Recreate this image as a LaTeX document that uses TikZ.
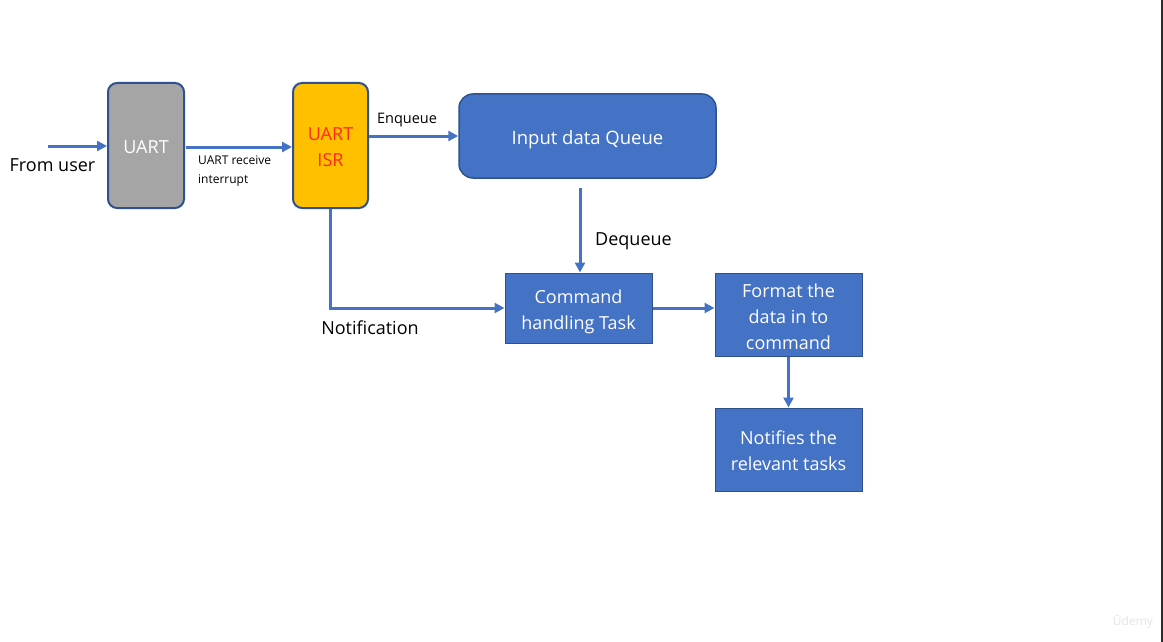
\documentclass[tikz,border=0pt]{standalone}
\usepackage{fontspec}
\setmainfont{Open Sans}
\usetikzlibrary{arrows.meta,calc}
\definecolor{accblue}{HTML}{4472C4}
\definecolor{darkblue}{HTML}{2F528F}
\definecolor{uartgray}{HTML}{A5A5A5}
\definecolor{isryellow}{HTML}{FFC000}
\definecolor{isrred}{HTML}{FF2A1A}
\tikzset{
  rbox/.style={draw=darkblue, line width=2pt, rounded corners=9pt, inner sep=0pt},
  bluebox/.style={draw=darkblue, line width=1pt, fill=accblue, inner sep=0pt},
  intext/.style={align=center, inner sep=0pt, text=white, font=\fontsize{18}{26}\selectfont},
  conn/.style={draw=accblue, line width=3pt, -{Triangle[length=10pt,width=10pt]}},
  lbl/.style={inner sep=0pt, font=\fontsize{18}{26}\selectfont},
}
\begin{document}
\begin{tikzpicture}[x=1pt,y=-1pt]
\useasboundingbox (0,0) rectangle (1163,642);
\fill[white] (0,0) rectangle (1163,642);
\fill[black!83] (1160.5,0) rectangle (1163,642);

\node[rbox, fill=uartgray, minimum width=76pt, minimum height=125pt] (uart) at (146,145.5) {};
\node[intext] (uarttxt) at ([yshift=-2pt]uart.center) {UART};
\node[rbox, fill=isryellow, minimum width=75pt, minimum height=125pt] (isr) at (330.5,145.5) {};
\node[intext, text=isrred] (isrtxt) at ([yshift=-1.5pt]isr.center) {UART\\ISR};
\node[draw=darkblue, line width=1.5pt, fill=accblue, rounded corners=14pt,
  minimum width=257pt, minimum height=84pt, inner sep=0pt] (queue) at (587.5,136) {};
\node[intext, font=\fontsize{18.5}{26}\selectfont] (queuetxt) at ([yshift=-3.5pt]queue.center) {Input data Queue};
\node[bluebox, minimum width=147pt, minimum height=70pt] (cmd) at (578.5,308) {};
\node[intext] (cmdtxt) at ([yshift=-3.5pt]cmd.center) {Command\\handling Task};
\node[bluebox, minimum width=147pt, minimum height=83pt] (fmt) at (788.5,314.5) {};
\node[intext] (fmttxt) at ([yshift=-2pt]fmt.center) {Format the\\data in to\\command};
\node[bluebox, minimum width=147pt, minimum height=83pt] (notif) at (788.5,449.5) {};
\node[intext] (notiftxt) at ([yshift=-1.5pt]notif.center) {Notifies the\\relevant tasks};

\coordinate (src) at (48,146);
\draw[conn] (src) -- (uart.west |- src);
\draw[conn] ($(uart.east)+(1,1.5)$) -- ($(isr.west)+(0,1.5)$);
\draw[conn] (isr.east |- queue.west) -- (queue.west);
\draw[conn, shorten <=9pt] (cmd.north |- queue.south) ++(1.5,0) coordinate (dq) -- (dq |- cmd.north);
\draw[conn] (isr.south) |- (cmd.west);
\draw[conn] (cmd.east) -- (fmt.west |- cmd.east);
\draw[conn] (fmt.south) -- (notif.north);

\node[lbl] (fromuser) at (52.5,165) {From user};
\node[inner sep=0pt, anchor=west, align=left, font=\fontsize{12}{19}\selectfont] (rcv) at (198,171.5) {UART receive\\interrupt};
\node[inner sep=0pt, font=\fontsize{14.5}{18}\selectfont] (enq) at (407,120) {Enqueue};
\node[lbl] (deq) at (633.5,241.5) {Dequeue};
\node[lbl] (noti) at (370,328) {Notification};
\node[inner sep=0pt, text=black!10, font=\fontsize{12}{14}\selectfont] (udemy) at (1133,622) {Ūdemy};
\end{tikzpicture}
\end{document}
